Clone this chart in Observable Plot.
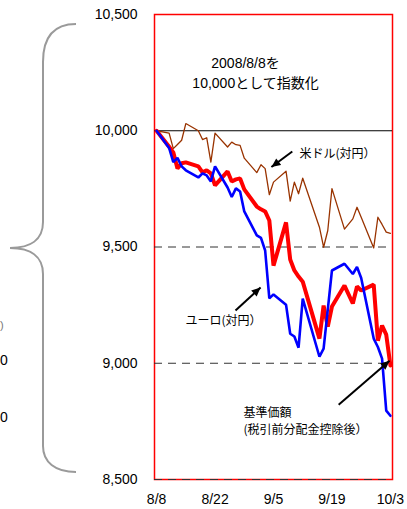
<!DOCTYPE html>
<html>
<head>
<meta charset="utf-8">
<script src="https://cdn.jsdelivr.net/npm/d3@7"></script>
<script src="https://cdn.jsdelivr.net/npm/@observablehq/plot@0.6"></script>
<style>
  html, body { margin: 0; padding: 0; background: #fff; }
  #wrap { position: relative; width: 407px; height: 509px; overflow: hidden; }
  #deco { position: absolute; left: 0; top: 0; pointer-events: none; }
</style>
</head>
<body>
<div id="wrap"></div>
<script>
// ---- data ----
const dates = [
  "2008-08-08","2008-08-11","2008-08-12","2008-08-13","2008-08-14","2008-08-15",
  "2008-08-18","2008-08-19","2008-08-20","2008-08-21","2008-08-22",
  "2008-08-25","2008-08-26","2008-08-27","2008-08-28","2008-08-29",
  "2008-09-01","2008-09-02","2008-09-03","2008-09-04","2008-09-05",
  "2008-09-08","2008-09-09","2008-09-10","2008-09-11","2008-09-12",
  "2008-09-16","2008-09-17","2008-09-18","2008-09-19",
  "2008-09-22","2008-09-24","2008-09-25","2008-09-26",
  "2008-09-29","2008-09-30","2008-10-01","2008-10-02","2008-10-03"
];
// 基準価額（税引前分配金控除後）
const fund = [
  10000, 9931, 9907, 9838, 9860, 9864,
  9847, 9821, 9830, 9817, 9765,
  9825, 9782, 9791, 9795, 9748,
  9674, 9662, 9653, 9614, 9420,
  9606, 9446, 9399, 9373, 9351,
  9106, 9248, 9158, 9244,
  9334, 9257, 9330, 9313,
  9338, 9097, 9162, 9123, 8990
];
// 米ドル（対円）
const usd = [
  10000, 9990, 9923, 9941, 9959, 10031,
  10000, 9962, 9970, 9865, 9990,
  9930, 9951, 9940, 9937, 9882,
  9820, 9854, 9837, 9725, 9779,
  9826, 9697, 9779, 9729, 9796,
  9585, 9499, 9571, 9751,
  9577, 9621, 9671, 9628,
  9496, 9628, 9597, 9564, 9559
];
// ユーロ（対円）
const eur = [
  10000, 9926, 9865, 9883, 9847, 9830,
  9799, 9817, 9808, 9782, 9847,
  9756, 9715, 9752, 9739, 9653,
  9550, 9539, 9485, 9279, 9296,
  9252, 9127, 9115, 9067, 9278,
  9028, 9063, 9231, 9399,
  9428, 9384, 9414, 9367,
  9106, 9070, 9020, 8796, 8774
];
const xTicks = ["2008-08-08","2008-08-22","2008-09-05","2008-09-19","2008-10-03"];
const yTicks = [8500, 9000, 9500, 10000, 10500];
const dashedLevels = [9500, 9000, 8500];
const baseLevel = [10000];

// ---- build ----
const parse = d3.utcParse("%Y-%m-%d");
const day0 = Date.UTC(2008, 7, 8);
const at = (d) => new Date(day0 + d * 864e5);
const rows = (vals) => dates.map((d, i) => ({date: parse(d), value: vals[i]}));

const notes = [
  {x: at(21.3), y: 10290, text: "2008/8/8を", size: 14},
  {x: at(23.7), y: 10205, text: "10,000として指数化", size: 14},
  {x: at(34.2), y: 9898, text: "米ドル(対円）", size: 12},
  {x: at(6.9), y: 9183, text: "ユーロ(対円）", size: 12},
  {x: at(20.8), y: 8787, text: "基準価額", size: 12},
  {x: at(20.8), y: 8714, text: "(税引前分配金控除後）", size: 12}
];
const arrows = [
  {x1: at(32.5), y1: 9911, x2: at(27.5), y2: 9844},
  {x1: at(18.9), y1: 9227, x2: at(24.9), y2: 9326},
  {x1: at(43.6), y1: 8822, x2: at(55.8), y2: 9011}
];

// filled triangular arrowhead like the original
function filledArrow(color, context) {
  const doc = (context && context.document) || document;
  const m = doc.createElementNS("http://www.w3.org/2000/svg", "marker");
  m.setAttribute("viewBox", "-10 -5 10 10");
  m.setAttribute("markerUnits", "userSpaceOnUse");
  m.setAttribute("markerWidth", 10);
  m.setAttribute("markerHeight", 9);
  m.setAttribute("refX", 0);
  m.setAttribute("refY", 0);
  m.setAttribute("orient", "auto");
  const p = doc.createElementNS("http://www.w3.org/2000/svg", "path");
  p.setAttribute("d", "M-10,-4.5L0,0L-10,4.5Z");
  p.setAttribute("fill", color);
  p.setAttribute("stroke", "none");
  m.appendChild(p);
  return m;
}

function build(useMarker) {
  const arrowMark = useMarker
    ? Plot.link(arrows, {x1: "x1", y1: "y1", x2: "x2", y2: "y2", stroke: "#000", strokeWidth: 2, markerEnd: filledArrow})
    : Plot.arrow(arrows, {x1: "x1", y1: "y1", x2: "x2", y2: "y2", stroke: "#000", strokeWidth: 2, headLength: 9});
  return Plot.plot({
    width: 407,
    height: 509,
    marginLeft: 154,
    marginRight: 15,
    marginTop: 14,
    marginBottom: 30,
    style: {
      fontFamily: "'Liberation Sans', Arial, 'Noto Sans CJK JP', sans-serif",
      fontSize: "14px",
      background: "#fff",
      color: "#000"
    },
    x: {type: "utc", domain: [new Date(Date.UTC(2008, 7, 7, 12)), new Date(Date.UTC(2008, 9, 3, 12))]},
    y: {domain: [8500, 10500]},
    marks: [
      Plot.frame({stroke: "#ff0000", strokeWidth: 1.5}),
      Plot.ruleY(dashedLevels, {stroke: "#333", strokeWidth: 1, strokeDasharray: "8,6"}),
      Plot.ruleY(baseLevel, {stroke: "#000", strokeWidth: 1}),
      Plot.lineY(rows(usd), {x: "date", y: "value", stroke: "#993300", strokeWidth: 1.3}),
      Plot.lineY(rows(fund), {x: "date", y: "value", stroke: "#ff0000", strokeWidth: 4, strokeLinejoin: "miter"}),
      Plot.lineY(rows(eur), {x: "date", y: "value", stroke: "#0000ff", strokeWidth: 2.6, strokeLinejoin: "miter"}),
      arrowMark,
      Plot.text(notes.filter(d => d.size === 14), {x: "x", y: "y", text: "text", textAnchor: "middle", fontSize: 14,
        fontFamily: "'Liberation Sans', 'Noto Sans CJK JP', sans-serif", fill: "#000"}),
      Plot.text(notes.filter(d => d.size === 12), {x: "x", y: "y", text: "text", textAnchor: "start", fontSize: 12,
        fontFamily: "'Noto Sans CJK JP', sans-serif", fill: "#000"}),
      Plot.axisX({ticks: xTicks.map(parse), tickFormat: d3.utcFormat("%-m/%-d"), tickSize: 0, tickPadding: 15, fontSize: 14}),
      Plot.axisY({ticks: yTicks, tickFormat: d3.format(","), tickSize: 0, tickPadding: 17, fontSize: 14})
    ]
  });
}
let chart;
try { chart = build(true); } catch (e) { chart = build(false); }
document.getElementById("wrap").appendChild(chart);

// decorative brace and fragments of a neighbouring figure
const deco = d3.select("#wrap").append("svg").attr("id", "deco").attr("width", 407).attr("height", 509);
deco.append("path")
  .attr("d", "M76,24 C55,24 43,36 43,62 L43,222 C43,240 30,248 10,248 C30,248 43,256 43,274 L43,446 C43,462 55,472 76,472")
  .attr("fill", "none").attr("stroke", "#9a9a9a").attr("stroke-width", 2);
deco.append("text").attr("x", 0).attr("y", 329)
  .attr("font-family", "'Liberation Sans', sans-serif").attr("font-size", 11).attr("fill", "#777").text(")");
deco.append("text").attr("x", 0).attr("y", 365)
  .attr("font-family", "'Liberation Sans', sans-serif").attr("font-size", 14).attr("fill", "#000").text("0");
deco.append("text").attr("x", 0).attr("y", 422)
  .attr("font-family", "'Liberation Sans', sans-serif").attr("font-size", 14).attr("fill", "#000").text("0");
</script>
</body>
</html>
